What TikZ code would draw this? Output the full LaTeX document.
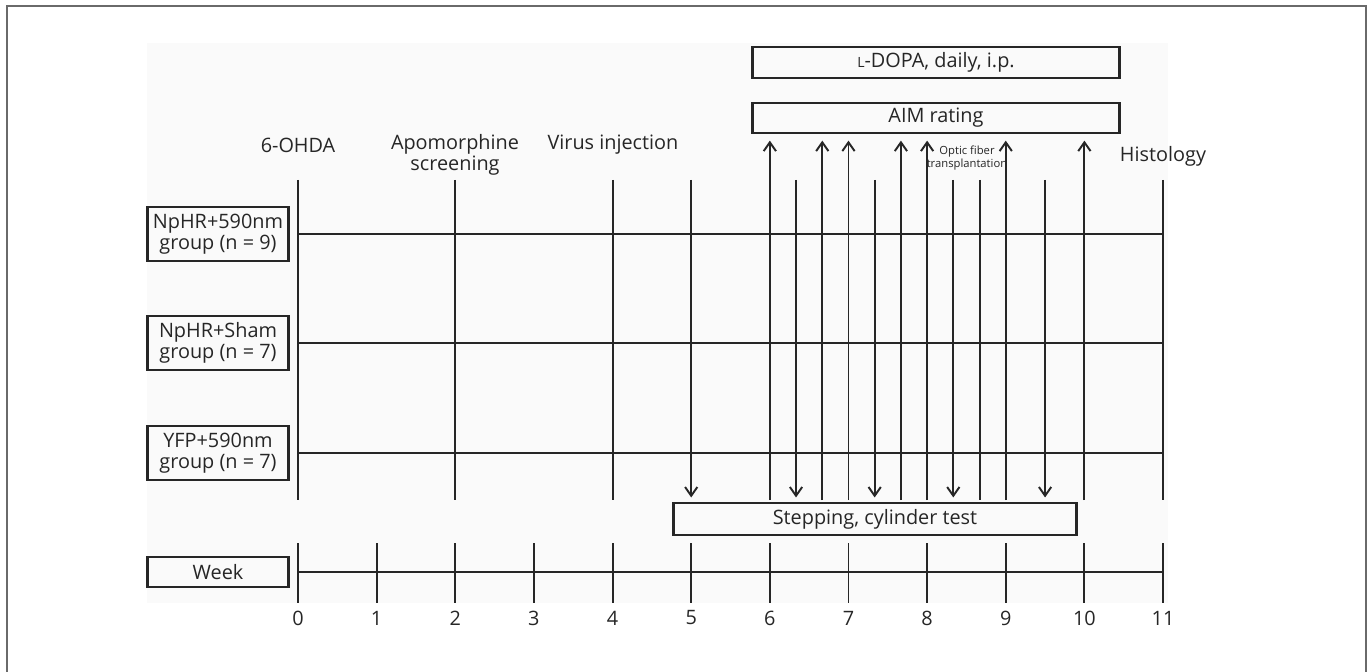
\documentclass[tikz,border=0pt]{standalone}
\usepackage{fontspec}
\setmainfont{Open Sans}
\usetikzlibrary{arrows.meta}
\definecolor{ink}{HTML}{262626}
\definecolor{framegray}{HTML}{6A6A6A}

\begin{document}
\begin{tikzpicture}[x=0.02cm, y=-0.02cm, color=ink, line width=1.1pt,
    every node/.style={font=\fontsize{11.3}{12}\selectfont},
    box/.style={draw, line width=1.7pt, inner sep=0pt, align=center},
    tip/.style={-{Straight Barb[length=5pt, width=7pt]}}]
  \useasboundingbox (0,0) rectangle (1370,672);
  \fill[black!2] (147,43) rectangle (1168,603);
  \draw[framegray] (7,672) -- (7,6) -- (1366,6) -- (1366,672);

  % groups and week
  \node[box, minimum width=2.82cm, minimum height=1.08cm] (g1) at (218,234) {NpHR+590nm\\group (n = 9)};
  \node[box, minimum width=2.82cm, minimum height=1.08cm] (g2) at (218,343) {NpHR+Sham\\group (n = 7)};
  \node[box, minimum width=2.82cm, minimum height=1.08cm] (g3) at (218,453) {YFP+590nm\\group (n = 7)};
  \node[box, minimum width=2.82cm, minimum height=0.6cm] (week) at (218,572) {Week};

  % treatment boxes
  \node[box, minimum width=7.36cm, minimum height=0.62cm] (dopa) at (936,62.5) {{\fontsize{8}{8}\selectfont L}-DOPA, daily, i.p.};
  \node[box, minimum width=7.36cm, minimum height=0.6cm] (aim) at (936,118) {AIM rating};
  \node[box, minimum width=8.08cm, minimum height=0.64cm] (step) at (875,519) {Stepping, cylinder test};

  % labels
  \node (ohda) at (298,145) {6-OHDA};
  \node[align=center] (apo) at (455,155) {Apomorphine\\screening};
  \node (virus) at (613,145) {Virus injection};
  \node (histo) at (1163,156) {Histology};
  \node[font=\fontsize{6.4}{7.4}\selectfont, align=center, inner sep=0pt] (optic) at (967,158) {Optic fiber\\transplantation};

  % week axis
  \foreach \i in {0,...,11} {
    \coordinate (ta\i) at ({298+78.64*\i},543);
    \coordinate (tb\i) at ({298+78.64*\i},603);
    \node (n\i) at ({298+78.64*\i},618) {\i};
    \draw (ta\i) -- (tb\i);
  }
  \draw (week.east -| ta0) -- (week.east -| ta11);

  % plain lines
  \foreach \w [count=\k] in {0,2,4,8.667,11} {
    \coordinate (p\k) at ({298+78.64*\w},180);
    \coordinate (q\k) at ({298+78.64*\w},500);
    \draw (p\k) -- (q\k);
  }
  \draw (g1.east -| ta0) -- (g1.east -| ta11);
  \draw (g2.east -| ta0) -- (g2.east -| ta11);
  \draw (g3.east -| ta0) -- (g3.east -| ta11);

  % tests
  \foreach \w [count=\k] in {5,6.333,7.333,8.333,9.5} {
    \coordinate (d\k) at ({298+78.64*\w},180);
    \draw[tip, shorten >=2.3pt] (d\k) -- (d\k |- step.north);
  }

  % ratings
  \foreach \w [count=\k] in {6,6.667,7,7.667,8,9,10} {
    \coordinate (u\k) at ({298+78.64*\w},500);
    \draw[tip, shorten >=3.5pt] (u\k) -- (u\k |- aim.south);
  }
\end{tikzpicture}
\end{document}
